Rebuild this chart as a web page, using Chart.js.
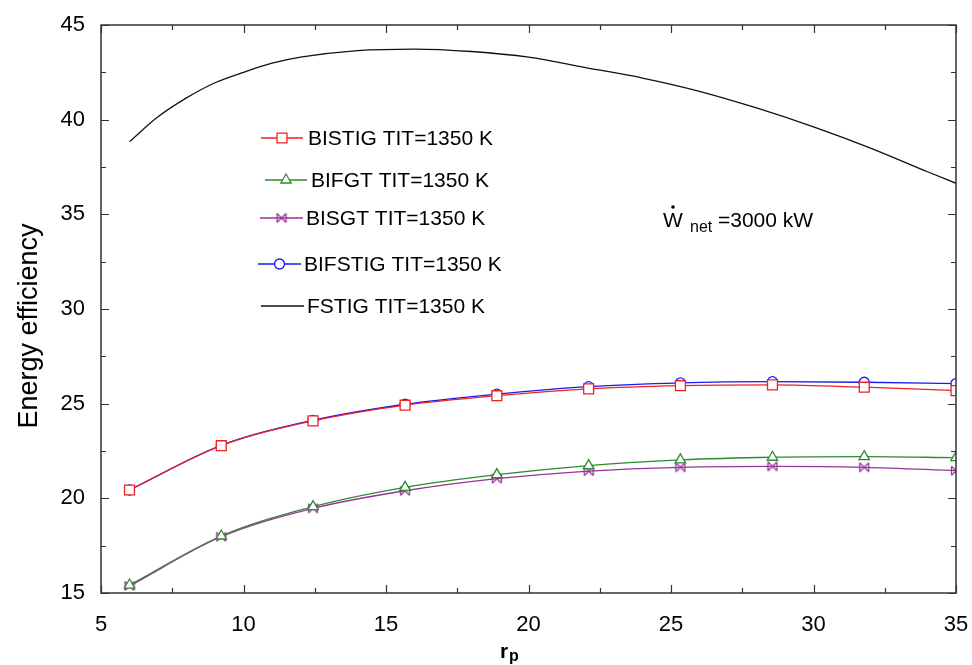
<!DOCTYPE html>
<html lang="en">
<head>
    <meta charset="UTF-8">
    <title>Energy efficiency vs rp</title>
    <script src="https://cdn.jsdelivr.net/npm/chart.js"></script>
    <style>
        body { margin: 0; background: #fff; }
    </style>
</head>
<body>
    <canvas id="chart" width="972" height="665"></canvas>

    <script>
        // pressure ratio where the marked curves were sampled
        const rp = [6, 9.22, 12.44, 15.67, 18.89, 22.11, 25.33, 28.56, 31.78, 35];
        const bistig = [20.44, 22.78, 24.09, 24.92, 25.42, 25.78, 25.95, 25.99, 25.87, 25.69];
        const bifgt = [15.42, 18.01, 19.56, 20.58, 21.25, 21.73, 22.03, 22.17, 22.2, 22.15];
        const bisgt = [15.37, 17.97, 19.47, 20.4, 21.04, 21.44, 21.64, 21.69, 21.64, 21.46];
        const bifstig = [20.44, 22.8, 24.12, 24.97, 25.5, 25.9, 26.1, 26.16, 26.13, 26.06];

        // FSTIG curve has no markers, read on its own grid
        const rpFstig = [6, 7, 8, 9, 10, 11, 12, 14, 16, 18, 20, 22, 24, 26, 28, 30, 32, 34, 35];
        const fstig = [38.84, 40.15, 41.15, 41.95, 42.5, 42.98, 43.3, 43.65, 43.73, 43.6, 43.3, 42.75, 42.2, 41.5, 40.62, 39.62, 38.5, 37.25, 36.64];

        const xTicks = [5, 10, 15, 20, 25, 30, 35];
        const yTicks = [15, 20, 25, 30, 35, 40, 45];

        const FONT = "'Liberation Sans', Arial, sans-serif";

        // bow-tie marker (⋈) for BISGT
        function bowtie(color) {
            const c = document.createElement('canvas');
            c.width = 12; c.height = 12;
            const g = c.getContext('2d');
            g.strokeStyle = color;
            g.lineWidth = 1.3;
            g.beginPath();
            g.moveTo(1.5, 1.5); g.lineTo(1.5, 10.5);
            g.moveTo(10.5, 1.5); g.lineTo(10.5, 10.5);
            g.moveTo(1.5, 1.5); g.lineTo(10.5, 10.5);
            g.moveTo(10.5, 1.5); g.lineTo(1.5, 10.5);
            g.stroke();
            return c;
        }

        const pts = (xs, ys) => xs.map((x, i) => ({ x: x, y: ys[i] }));

        // first one ends up on top
        const series = [
            { label: 'BISTIG TIT=1350 K', data: pts(rp, bistig), color: '#ee2222', style: 'rect', radius: 7 },
            { label: 'BIFGT TIT=1350 K', data: pts(rp, bifgt), color: '#2e8b2e', style: 'triangle', radius: 6 },
            { label: 'BISGT TIT=1350 K', data: pts(rp, bisgt), color: '#993399', style: bowtie('#993399'), radius: 6 },
            { label: 'BIFSTIG TIT=1350 K', data: pts(rp, bifstig), color: '#1a1aee', style: 'circle', radius: 5 },
            { label: 'FSTIG TIT=1350 K', data: pts(rpFstig, fstig), color: '#111111', style: false, radius: 0 }
        ];

        // legend placed inside the plot, like the original
        const legendSlots = [
            { x1: 261, x2: 303, y: 138, tx: 308 },
            { x1: 265, x2: 307, y: 180, tx: 311 },
            { x1: 260, x2: 303, y: 218, tx: 306 },
            { x1: 258, x2: 301, y: 264, tx: 304 },
            { x1: 261, x2: 304, y: 306, tx: 307 }
        ];

        const framePlugin = {
            id: 'frame',
            afterDraw(chart) {
                const ctx = chart.ctx;
                const a = chart.chartArea;
                const xs = chart.scales.x, ys = chart.scales.y;
                ctx.save();
                ctx.strokeStyle = '#333';
                ctx.lineWidth = 1.5;
                ctx.strokeRect(a.left, a.top, a.right - a.left, a.bottom - a.top);

                // inward ticks on all four sides
                ctx.lineWidth = 1.2;
                ctx.beginPath();
                for (let v = 5; v <= 35; v += 2.5) {
                    const px = Math.round(xs.getPixelForValue(v)) + 0.5;
                    const len = (v % 5 === 0) ? 8 : 5;
                    ctx.moveTo(px, a.bottom); ctx.lineTo(px, a.bottom - len);
                    ctx.moveTo(px, a.top); ctx.lineTo(px, a.top + len);
                }
                for (let v = 15; v <= 45; v += 2.5) {
                    const py = Math.round(ys.getPixelForValue(v)) + 0.5;
                    const len = (v % 5 === 0) ? 8 : 5;
                    ctx.moveTo(a.left, py); ctx.lineTo(a.left + len, py);
                    ctx.moveTo(a.right, py); ctx.lineTo(a.right - len, py);
                }
                ctx.stroke();

                // legend
                ctx.textBaseline = 'middle';
                ctx.textAlign = 'left';
                ctx.font = '21px ' + FONT;
                series.forEach((s, i) => {
                    const slot = legendSlots[i];
                    ctx.strokeStyle = s.color;
                    ctx.lineWidth = 1.3;
                    ctx.beginPath();
                    ctx.moveTo(slot.x1, slot.y);
                    ctx.lineTo(slot.x2, slot.y);
                    ctx.stroke();
                    if (s.style) {
                        ctx.fillStyle = '#fff';
                        Chart.helpers.drawPoint(ctx, {
                            pointStyle: s.style, radius: s.radius, rotation: 0, borderWidth: 1.3
                        }, (slot.x1 + slot.x2) / 2, slot.y);
                    }
                    ctx.fillStyle = '#000';
                    ctx.fillText(s.label, slot.tx, slot.y + 1);
                });

                // W_net annotation
                ctx.textBaseline = 'alphabetic';
                ctx.fillStyle = '#000';
                ctx.font = '21px ' + FONT;
                const wx = 663, wy = 227;
                ctx.fillText('W', wx, wy);
                ctx.beginPath();
                ctx.arc(wx + 10, wy - 20, 1.8, 0, Math.PI * 2);
                ctx.fill();
                ctx.font = '16px ' + FONT;
                ctx.fillText('net', wx + 27, wy + 5);
                ctx.font = '21px ' + FONT;
                ctx.fillText('=3000 kW', wx + 55, wy);

                // axis titles
                ctx.font = 'bold 21px ' + FONT;
                ctx.fillText('r', 500, 658);
                ctx.font = 'bold 16px ' + FONT;
                ctx.fillText('p', 509, 661);

                ctx.save();
                ctx.translate(37, 326);
                ctx.rotate(-Math.PI / 2);
                ctx.textAlign = 'center';
                ctx.font = '27px ' + FONT;
                ctx.fillText('Energy efficiency', 0, 0);
                ctx.restore();

                ctx.restore();
            }
        };

        const ctx = document.getElementById('chart').getContext('2d');

        new Chart(ctx, {
            type: 'line',
            data: {
                datasets: series.map(s => ({
                    label: s.label,
                    data: s.data,
                    borderColor: s.color,
                    backgroundColor: '#fff',
                    borderWidth: 1.3,
                    pointStyle: s.style,
                    pointRadius: s.radius,
                    pointBorderWidth: 1.3,
                    pointBorderColor: s.color,
                    pointBackgroundColor: '#fff',
                    cubicInterpolationMode: 'monotone',
                    fill: false
                }))
            },
            options: {
                responsive: false,
                animation: false,
                devicePixelRatio: 1,
                layout: { padding: { top: 25, right: 16, left: 0, bottom: 0 } },
                plugins: {
                    legend: { display: false },
                    tooltip: { enabled: false }
                },
                scales: {
                    x: {
                        type: 'linear',
                        min: 5,
                        max: 35,
                        afterFit(scale) {
                            scale.height = 72;
                            scale.paddingLeft = 0;
                            scale.paddingRight = 0;
                        },
                        afterBuildTicks(scale) { scale.ticks = xTicks.map(v => ({ value: v })); },
                        grid: { display: false },
                        border: { display: false },
                        ticks: { color: '#000', padding: 11, font: { family: FONT, size: 22 } }
                    },
                    y: {
                        min: 15,
                        max: 45,
                        afterFit(scale) {
                            scale.width = 101;
                            scale.paddingTop = 0;
                            scale.paddingBottom = 0;
                        },
                        afterBuildTicks(scale) { scale.ticks = yTicks.map(v => ({ value: v })); },
                        grid: { display: false },
                        border: { display: false },
                        ticks: { color: '#000', padding: 8, font: { family: FONT, size: 22 } }
                    }
                }
            },
            plugins: [framePlugin]
        });
    </script>
</body>
</html>
